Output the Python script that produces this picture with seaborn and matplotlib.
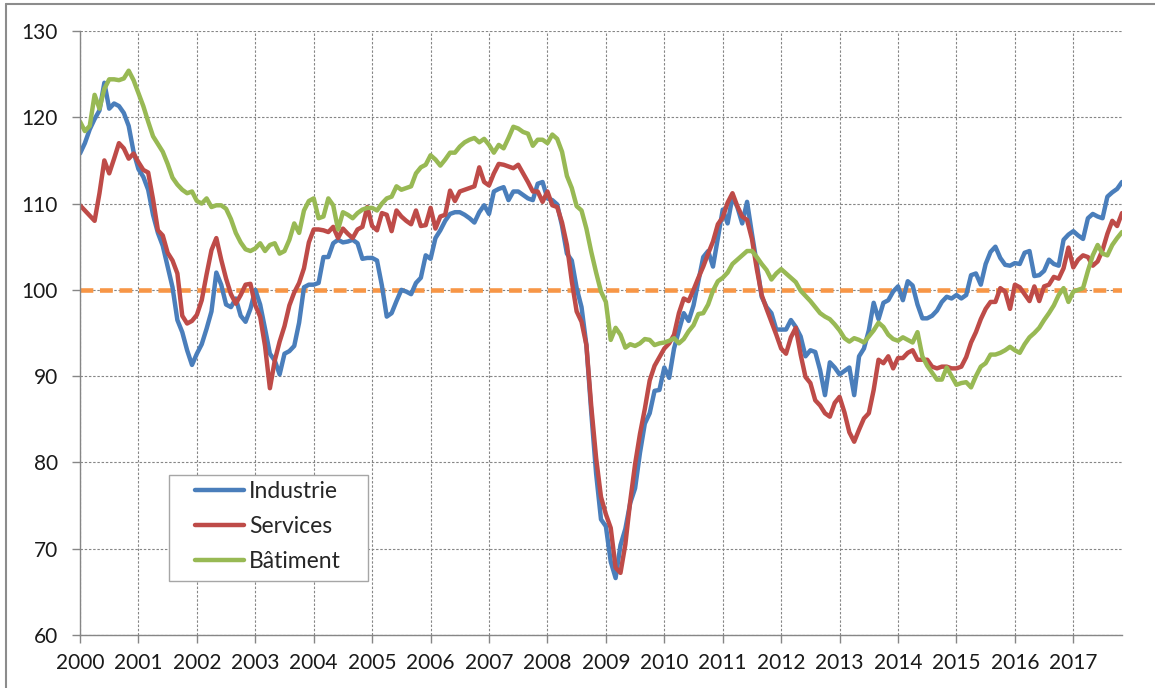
import numpy as np
import pandas as pd
import matplotlib.pyplot as plt
import seaborn as sns
from matplotlib.lines import Line2D
from matplotlib.patches import Rectangle

# Indicateurs de climat des affaires, mensuel, janv. 2000 -> nov. 2017
industrie = [
    115.8, 117.0, 118.6, 119.8, 120.8, 124.0, 121.0, 121.6, 121.3, 120.5, 119.0, 116.0,  # 2000
    114.0, 113.1, 111.6, 108.7, 106.6, 105.1, 102.7, 100.3, 96.5, 95.1, 93.0, 91.3,      # 2001
    92.6, 93.7, 95.5, 97.5, 102.0, 100.6, 98.3, 98.0, 99.0, 97.0, 96.3, 97.8,            # 2002
    100.0, 98.3, 95.5, 92.6, 91.8, 90.2, 92.6, 92.9, 93.5, 96.2, 100.3, 100.6,           # 2003
    100.6, 100.8, 103.8, 103.8, 105.4, 105.8, 105.5, 105.6, 105.8, 105.4, 103.6, 103.7,  # 2004
    103.7, 103.4, 100.5, 96.9, 97.3, 98.7, 100.0, 99.8, 99.5, 100.8, 101.4, 104.0,       # 2005
    103.6, 106.0, 106.9, 108.0, 108.8, 109.0, 109.0, 108.7, 108.3, 107.8, 109.0, 109.8,  # 2006
    108.8, 111.4, 111.7, 111.9, 110.4, 111.4, 111.4, 111.0, 110.6, 110.4, 112.3, 112.5,  # 2007
    110.6, 110.4, 109.9, 107.4, 104.2, 103.4, 100.2, 98.0, 93.6, 85.8, 78.7, 73.4,       # 2008
    72.6, 68.5, 66.6, 70.4, 72.3, 75.3, 77.0, 81.1, 84.5, 85.7, 88.3, 88.4,              # 2009
    91.0, 89.8, 93.2, 95.3, 97.3, 96.4, 98.2, 101.0, 103.8, 104.5, 102.7, 106.0,         # 2010
    109.3, 107.7, 110.8, 109.6, 107.7, 110.2, 106.5, 103.0, 99.2, 98.0, 97.3, 95.4,      # 2011
    95.4, 95.4, 96.5, 95.7, 94.6, 92.3, 93.0, 92.8, 90.7, 87.8, 91.6, 91.0,              # 2012
    90.2, 90.6, 91.0, 87.8, 92.3, 93.2, 95.3, 98.5, 96.6, 98.5, 98.8, 99.8,              # 2013
    100.4, 98.8, 101.0, 100.5, 98.3, 96.7, 96.7, 97.0, 97.6, 98.6, 99.2, 99.0,           # 2014
    99.4, 99.0, 99.4, 101.7, 101.9, 100.6, 103.0, 104.4, 105.0, 103.7, 102.9, 102.8,     # 2015
    103.1, 103.0, 104.3, 104.5, 101.6, 101.7, 102.2, 103.5, 103.0, 102.8, 105.8, 106.4,  # 2016
    106.8, 106.3, 105.9, 108.3, 108.8, 108.5, 108.3, 110.8, 111.3, 111.7, 112.5,         # 2017
]

services = [
    109.8, 109.2, 108.6, 108.0, 111.2, 115.0, 113.5, 115.2, 117.0, 116.4, 115.2, 115.8,  # 2000
    114.8, 113.9, 113.6, 110.5, 106.9, 106.3, 104.3, 103.4, 101.9, 97.0, 96.1, 96.4,     # 2001
    97.1, 98.8, 101.8, 104.6, 106.0, 103.5, 101.3, 99.5, 98.4, 99.4, 100.6, 100.7,       # 2002
    98.2, 96.9, 93.5, 88.6, 91.8, 94.0, 95.8, 98.2, 99.7, 100.8, 102.5, 105.5,           # 2003
    107.0, 107.0, 106.9, 106.7, 107.3, 106.0, 107.1, 106.5, 106.0, 107.0, 107.3, 109.6,  # 2004
    107.4, 106.9, 108.9, 108.7, 106.8, 109.2, 108.5, 108.0, 107.6, 109.2, 107.4, 107.5,  # 2005
    109.5, 107.1, 108.5, 108.7, 111.5, 110.3, 111.4, 111.6, 111.8, 112.0, 114.2, 112.5,  # 2006
    112.1, 113.5, 114.6, 114.5, 114.3, 114.1, 114.5, 113.5, 112.5, 111.4, 111.4, 110.2,  # 2007
    111.4, 109.8, 109.6, 107.8, 105.2, 101.0, 97.5, 96.3, 93.6, 86.5, 80.5, 76.0,        # 2008
    74.0, 72.4, 67.8, 67.2, 70.5, 75.5, 79.8, 83.3, 86.2, 89.5, 91.2, 92.2,              # 2009
    93.2, 93.8, 94.8, 97.3, 99.0, 98.7, 100.0, 101.4, 102.7, 104.2, 105.6, 107.6,        # 2010
    108.4, 110.1, 111.2, 109.7, 108.5, 108.1, 105.9, 102.4, 99.4, 97.8, 96.3, 94.8,      # 2011
    93.2, 92.6, 94.5, 95.6, 92.5, 89.9, 89.2, 87.2, 86.6, 85.7, 85.3, 86.9,              # 2012
    87.6, 85.8, 83.5, 82.4, 83.8, 85.1, 85.7, 88.4, 91.9, 91.5, 92.3, 90.9,              # 2013
    92.1, 92.1, 92.7, 93.0, 91.9, 91.9, 91.9, 91.1, 90.9, 91.1, 91.1, 90.9,              # 2014
    90.9, 91.1, 92.2, 93.9, 95.1, 96.6, 97.8, 98.6, 98.6, 100.2, 99.8, 97.8,             # 2015
    100.6, 100.3, 99.5, 98.7, 100.4, 98.7, 100.4, 100.6, 101.5, 101.3, 102.5, 104.9,     # 2016
    102.6, 103.5, 104.0, 103.8, 102.8, 103.3, 104.6, 106.5, 108.0, 107.4, 108.9,         # 2017
]

batiment = [
    119.5, 118.4, 119.0, 122.6, 121.0, 123.3, 124.4, 124.4, 124.3, 124.5, 125.4, 124.3,  # 2000
    122.8, 121.3, 119.5, 117.8, 116.9, 116.0, 114.6, 113.0, 112.2, 111.6, 111.2, 111.4,  # 2001
    110.3, 110.0, 110.6, 109.6, 109.8, 109.8, 109.4, 108.2, 106.6, 105.5, 104.7, 104.5,  # 2002
    104.8, 105.4, 104.5, 105.2, 105.4, 104.2, 104.5, 105.8, 107.7, 106.6, 109.2, 110.3,  # 2003
    110.6, 108.3, 108.5, 110.6, 109.8, 107.0, 109.0, 108.7, 108.3, 108.9, 109.3, 109.5,  # 2004
    109.5, 109.2, 110.0, 110.6, 110.8, 112.0, 111.6, 111.8, 112.0, 113.5, 114.2, 114.5,  # 2005
    115.6, 115.1, 114.4, 115.1, 115.9, 115.9, 116.6, 117.1, 117.4, 117.6, 117.1, 117.5,  # 2006
    116.8, 115.9, 116.8, 116.4, 117.6, 118.9, 118.7, 118.3, 118.1, 116.7, 117.4, 117.4,  # 2007
    117.0, 118.0, 117.5, 116.0, 113.2, 111.8, 109.7, 109.2, 107.1, 104.4, 102.0, 99.8,   # 2008
    98.6, 94.2, 95.6, 94.8, 93.3, 93.7, 93.5, 93.8, 94.3, 94.2, 93.6, 93.8,              # 2009
    93.9, 94.1, 94.4, 93.8, 94.3, 95.2, 95.9, 97.2, 97.3, 98.3, 99.9, 101.0,             # 2010
    101.4, 102.0, 103.0, 103.5, 104.0, 104.5, 104.5, 103.8, 103.0, 102.3, 101.2, 101.9,  # 2011
    102.4, 101.9, 101.4, 100.9, 99.9, 99.3, 98.7, 98.0, 97.3, 96.9, 96.6, 96.0,          # 2012
    95.3, 94.4, 94.0, 94.4, 94.2, 93.9, 94.6, 95.3, 96.2, 95.7, 94.8, 94.3,              # 2013
    94.1, 94.5, 94.2, 93.9, 95.1, 92.3, 91.2, 90.4, 89.6, 89.6, 91.0, 90.0,              # 2014
    89.0, 89.2, 89.3, 88.7, 90.0, 91.1, 91.5, 92.5, 92.5, 92.7, 93.0, 93.4,              # 2015
    93.0, 92.7, 93.7, 94.5, 95.0, 95.6, 96.5, 97.3, 98.2, 99.4, 100.2, 98.6,             # 2016
    99.8, 100.0, 100.2, 102.2, 104.0, 105.2, 104.2, 104.0, 105.2, 106.0, 106.7,          # 2017
]

series_names = ["Industrie", "Services", "Bâtiment"]
colors = ["#4A7EBB", "#BE4B48", "#98B954"]
years = list(range(2000, 2018))
ref_level = 100

# %%
# mise en forme longue pour seaborn
n = len(industrie)
wide = pd.DataFrame({
    "mois": np.arange(n),
    "Industrie": industrie,
    "Services": services,
    "Bâtiment": batiment,
})
df = wide.melt(id_vars="mois", var_name="serie", value_name="indice")

# %%
sns.set_theme(style="ticks")
plt.rcParams['font.family'] = ['Lato', 'DejaVu Sans']

W, H = 1155, 688
fig = plt.figure(figsize=(W / 100, H / 100), dpi=100)
x0, x1, y_top, y_bot = 80, 1122, 31, 635
ax = fig.add_axes([x0 / W, 1 - y_bot / H, (x1 - x0) / W, (y_bot - y_top) / H])

grid_col = "#868686"
line_w = 3.2
ax.axhline(ref_level, color="#F79646", lw=3.3, dashes=(2.8, 1.45), zorder=1.5)
sns.lineplot(data=df, x="mois", y="indice", hue="serie",
             palette=dict(zip(series_names, colors)), hue_order=series_names,
             estimator=None, linewidth=line_w, legend=False, ax=ax, zorder=2)
for line in ax.lines:
    line.set_solid_joinstyle("round")

ax.set_xlim(0, n - 1)
ax.set_ylim(60, 130)
ax.set_yticks(range(60, 131, 10))
ax.set_xticks([12 * k for k in range(len(years))])
ax.set_xticklabels([str(y) for y in years])
ax.set_xlabel("")
ax.set_ylabel("")

ax.set_axisbelow(True)
ax.grid(True, color=grid_col, linestyle=(0, (2.2, 1.6)), linewidth=0.8)
for side in ["top", "right"]:
    ax.spines[side].set_visible(False)
for side in ["left", "bottom"]:
    ax.spines[side].set_color(grid_col)
    ax.spines[side].set_linewidth(1.0)

ax.tick_params(axis="both", direction="out", length=5.8, width=1.0,
               color=grid_col, labelsize=15, labelcolor="#1a1a1a")
ax.tick_params(axis="y", pad=10)
ax.tick_params(axis="x", pad=7)

# cadre de légende
ax.add_patch(Rectangle(((169 - x0) / (x1 - x0), (y_bot - 581) / (y_bot - y_top)),
                       199 / (x1 - x0), 106 / (y_bot - y_top),
                       transform=ax.transAxes, facecolor="white",
                       edgecolor="#A6A6A6", lw=1.0, zorder=4))
handles = [Line2D([], [], color=c, lw=line_w) for c in colors]
ax.legend(handles, series_names, loc="upper left",
          bbox_to_anchor=((195 - x0) / (x1 - x0), (y_bot - 481) / (y_bot - y_top)),
          frameon=False, fontsize=16.5, handlelength=2.15, handletextpad=0.2,
          labelspacing=0.62, borderpad=0, borderaxespad=0)

# bordure de l'image (haut et gauche)
fig.add_artist(Line2D([5.5 / W, 1], [1 - 4 / H, 1 - 4 / H], color="#8c8c8c", lw=1.5))
fig.add_artist(Line2D([5.5 / W, 5.5 / W], [0, 1 - 4 / H], color="#8c8c8c", lw=1.5))

fig.savefig("out.png", dpi=100)
